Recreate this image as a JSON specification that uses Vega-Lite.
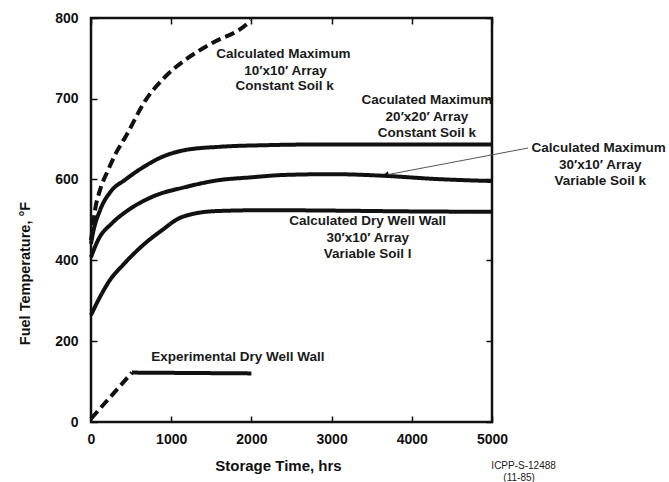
{
  "$schema": "https://vega.github.io/schema/vega-lite/v6.json",
  "width": 401,
  "height": 404,
  "autosize": {"type": "none"},
  "padding": {"left": 91, "top": 18, "right": 177, "bottom": 60},
  "background": "white",
  "config": {
    "view": {"stroke": "#111", "strokeWidth": 2.5},
    "font": "Liberation Sans",
    "axis": {"grid": false, "domain": false, "tickColor": "#111", "tickWidth": 1.5, "labelColor": "#111", "titleColor": "#111", "labelFont": "Liberation Sans", "titleFont": "Liberation Sans"}
  },
  "datasets": {
    "curves": [
      {"s": "10x10", "d": "dashed", "x": 0, "y": 449},
      {"s": "10x10", "d": "dashed", "x": 25, "y": 486},
      {"s": "10x10", "d": "dashed", "x": 50, "y": 523},
      {"s": "10x10", "d": "dashed", "x": 113, "y": 573},
      {"s": "10x10", "d": "dashed", "x": 213, "y": 611},
      {"s": "10x10", "d": "dashed", "x": 300, "y": 630},
      {"s": "10x10", "d": "dashed", "x": 440, "y": 654},
      {"s": "10x10", "d": "dashed", "x": 675, "y": 697},
      {"s": "10x10", "d": "dashed", "x": 925, "y": 727},
      {"s": "10x10", "d": "dashed", "x": 1175, "y": 748},
      {"s": "10x10", "d": "dashed", "x": 1513, "y": 769},
      {"s": "10x10", "d": "dashed", "x": 1925, "y": 791},
      {"s": "10x10", "d": "dashed", "x": 1990, "y": 797},
      {"s": "20x20", "d": "solid", "x": 0, "y": 440},
      {"s": "20x20", "d": "solid", "x": 25, "y": 467},
      {"s": "20x20", "d": "solid", "x": 113, "y": 523},
      {"s": "20x20", "d": "solid", "x": 250, "y": 570},
      {"s": "20x20", "d": "solid", "x": 425, "y": 598},
      {"s": "20x20", "d": "solid", "x": 640, "y": 614},
      {"s": "20x20", "d": "solid", "x": 900, "y": 628},
      {"s": "20x20", "d": "solid", "x": 1175, "y": 636},
      {"s": "20x20", "d": "solid", "x": 1600, "y": 640},
      {"s": "20x20", "d": "solid", "x": 2175, "y": 642},
      {"s": "20x20", "d": "solid", "x": 3000, "y": 643},
      {"s": "20x20", "d": "solid", "x": 4000, "y": 643},
      {"s": "20x20", "d": "solid", "x": 5000, "y": 643},
      {"s": "30x10", "d": "solid", "x": 0, "y": 407},
      {"s": "30x10", "d": "solid", "x": 90, "y": 450},
      {"s": "30x10", "d": "solid", "x": 263, "y": 491},
      {"s": "30x10", "d": "solid", "x": 463, "y": 523},
      {"s": "30x10", "d": "solid", "x": 763, "y": 556},
      {"s": "30x10", "d": "solid", "x": 1175, "y": 580},
      {"s": "30x10", "d": "solid", "x": 1588, "y": 597},
      {"s": "30x10", "d": "solid", "x": 1988, "y": 602},
      {"s": "30x10", "d": "solid", "x": 2400, "y": 605},
      {"s": "30x10", "d": "solid", "x": 3000, "y": 606},
      {"s": "30x10", "d": "solid", "x": 3650, "y": 604},
      {"s": "30x10", "d": "solid", "x": 4300, "y": 600},
      {"s": "30x10", "d": "solid", "x": 5000, "y": 595},
      {"s": "dry", "d": "solid", "x": 0, "y": 264},
      {"s": "dry", "d": "solid", "x": 113, "y": 309},
      {"s": "dry", "d": "solid", "x": 238, "y": 351},
      {"s": "dry", "d": "solid", "x": 400, "y": 388},
      {"s": "dry", "d": "solid", "x": 650, "y": 437},
      {"s": "dry", "d": "solid", "x": 888, "y": 474},
      {"s": "dry", "d": "solid", "x": 1088, "y": 502},
      {"s": "dry", "d": "solid", "x": 1300, "y": 515},
      {"s": "dry", "d": "solid", "x": 1588, "y": 521},
      {"s": "dry", "d": "solid", "x": 2175, "y": 523},
      {"s": "dry", "d": "solid", "x": 3000, "y": 522},
      {"s": "dry", "d": "solid", "x": 4000, "y": 520},
      {"s": "dry", "d": "solid", "x": 5000, "y": 519},
      {"s": "exp-a", "d": "dashed", "x": 0, "y": 8},
      {"s": "exp-a", "d": "dashed", "x": 510, "y": 122},
      {"s": "exp-b", "d": "solid", "x": 510, "y": 122},
      {"s": "exp-b", "d": "solid", "x": 2000, "y": 120}
    ],
    "labels": [
      {"t": "Calculated Maximum", "x": 2400, "y": 755},
      {"t": "10′x10′ Array", "x": 2425, "y": 734},
      {"t": "Constant Soil k", "x": 2413, "y": 715},
      {"t": "Caculated Maximum", "x": 4188, "y": 698},
      {"t": "20′x20′ Array", "x": 4188, "y": 677},
      {"t": "Constant Soil k", "x": 4188, "y": 657},
      {"t": "Calculated Maximum", "x": 6330, "y": 638},
      {"t": "30′x10′ Array", "x": 6350, "y": 617},
      {"t": "Variable Soil k", "x": 6350, "y": 595},
      {"t": "Calculated Dry Well Wall", "x": 3450, "y": 496},
      {"t": "30′x10′ Array", "x": 3450, "y": 454},
      {"t": "Variable Soil l", "x": 3450, "y": 415},
      {"t": "Experimental Dry Well Wall", "x": 1831, "y": 160}
    ],
    "notes": [
      {"t": "ICPP-S-12488", "x": 5394, "y": -109},
      {"t": "(11-85)", "x": 5338, "y": -138}
    ],
    "leader": [
      {"x": 5450, "y": 638.5},
      {"x": 3675, "y": 605}
    ],
    "tip": [
      {"x": 3675, "y": 605}
    ]
  },
  "layer": [
    {
      "data": {"name": "curves"},
      "mark": {"type": "line", "strokeWidth": 4, "color": "#111", "strokeCap": "butt", "strokeJoin": "round", "interpolate": "monotone"},
      "encoding": {
        "x": {"field": "x", "type": "quantitative",
          "scale": {"domain": [0, 5000], "nice": false, "zero": false},
          "axis": {"orient": "bottom", "values": [0, 1000, 2000, 3000, 4000, 5000], "format": "d", "title": "Storage Time, hrs", "tickSize": -6, "labelPadding": 16, "labelFontSize": 14, "labelFontWeight": "bold", "labelFlush": false, "titleFontSize": 15, "titleFontWeight": "bold", "titleX": 187, "titleY": 43, "titleBaseline": "middle"}},
        "y": {"field": "y", "type": "quantitative",
          "scale": {"domain": [0, 600, 800], "range": [404, 161, 0], "nice": false, "zero": false},
          "axis": {"orient": "left", "values": [0, 200, 400, 600, 700, 800], "format": "d", "title": "Fuel Temperature, °F", "tickSize": -6, "labelPadding": 19, "labelFontSize": 14, "labelFontWeight": "bold", "labelFlush": false, "labelOverlap": false, "titleFontSize": 14.5, "titleFontWeight": "bold", "titleX": -66, "titleY": 255, "titleBaseline": "middle"}},
        "detail": {"field": "s", "type": "nominal"},
        "strokeDash": {"field": "d", "type": "nominal", "scale": {"domain": ["solid", "dashed"], "range": [[1, 0], [10, 5]]}, "legend": null}
      }
    },
    {
      "data": {"name": "leader"},
      "mark": {"type": "line", "strokeWidth": 1, "color": "#555"},
      "encoding": {
        "x": {"field": "x", "type": "quantitative",
          "axis": {"orient": "top", "values": [0, 1000, 2000, 3000, 4000, 5000], "labels": false, "title": null, "tickSize": -6}},
        "y": {"field": "y", "type": "quantitative",
          "axis": {"orient": "right", "values": [0, 200, 400, 600, 700, 800], "labels": false, "title": null, "tickSize": -6}}
      }
    },
    {
      "data": {"name": "tip"},
      "mark": {"type": "point", "shape": "triangle-left", "size": 45, "filled": true, "color": "#111", "opacity": 1, "angle": 349},
      "encoding": {
        "x": {"field": "x", "type": "quantitative", "axis": null},
        "y": {"field": "y", "type": "quantitative", "axis": null}
      }
    },
    {
      "data": {"name": "labels"},
      "mark": {"type": "text", "font": "Liberation Sans", "fontSize": 13.5, "fontWeight": "bold", "color": "#1a1a1a", "align": "center", "baseline": "middle"},
      "encoding": {
        "x": {"field": "x", "type": "quantitative", "axis": null},
        "y": {"field": "y", "type": "quantitative", "axis": null},
        "text": {"field": "t", "type": "nominal"}
      }
    },
    {
      "data": {"name": "notes"},
      "mark": {"type": "text", "font": "Liberation Sans", "fontSize": 10, "color": "#1a1a1a", "align": "center", "baseline": "middle"},
      "encoding": {
        "x": {"field": "x", "type": "quantitative", "axis": null},
        "y": {"field": "y", "type": "quantitative", "axis": null},
        "text": {"field": "t", "type": "nominal"}
      }
    }
  ],
  "resolve": {"axis": {"x": "independent", "y": "independent"}}
}
